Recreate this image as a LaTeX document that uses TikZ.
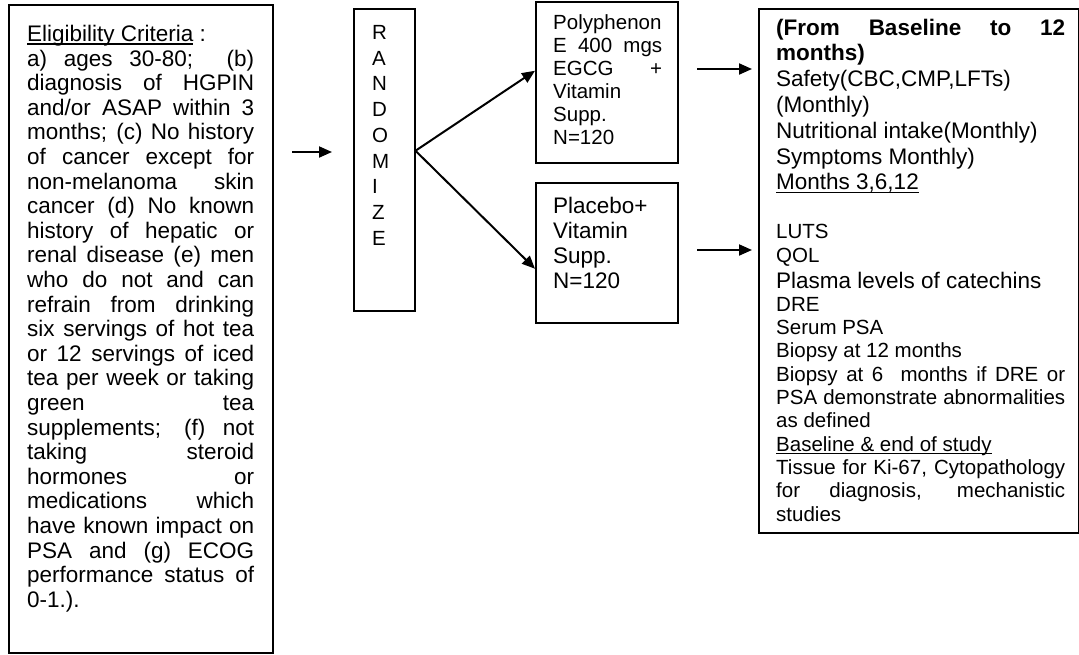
\documentclass[tikz,border=0pt]{standalone}
\usepackage{fontspec}
\setmainfont{Liberation Sans}
\usetikzlibrary{arrows.meta}

\setlength{\parindent}{0pt}
\hyphenpenalty=10000
\exhyphenpenalty=10000
\tolerance=10000
\hbadness=10000
\newcommand{\bigtxt}{\fontsize{22.5}{25.8}\selectfont}
\newcommand{\smalltxt}{\fontsize{20.5}{23.3}\selectfont}
% underline just below the baseline
\newcommand{\undl}[1]{\leavevmode\setbox0\hbox{#1}\rlap{\rule[-3pt]{\wd0}{1.3pt}}\box0\relax}

\begin{document}
\begin{tikzpicture}[
		x=1pt,y=-1pt,
		box/.style={
			draw,line width=1.5pt,anchor=north west,inner sep=0pt,
		},
		txt/.style={
			anchor=north west,inner sep=0pt,align=justify,
		},
		arr/.style={
			line width=2pt,-{Triangle[length=13pt,width=11pt]},
		},
	]

	\useasboundingbox (0,0) rectangle (1079,654);

	% eligibility box on the left
	\node[box,minimum width=264pt,minimum height=648pt] (crit) at (8,4) {};
	\node[txt,text width=227pt,font=\fontsize{22.5}{24.6}\selectfont] (crittxt) at (27,25) {%
		\undl{Eligibility Criteria} :\par
		a) ages 30-80;\ \ (b)\linebreak diagnosis of HGPIN\linebreak
		and/or ASAP within 3\linebreak months; (c) No history\linebreak
		of cancer except for\linebreak non-melanoma skin\linebreak
		cancer (d) No known\linebreak history of hepatic or\linebreak
		renal disease (e) men\linebreak who do not and can\linebreak
		refrain from drinking\linebreak six servings of hot tea\linebreak
		or 12 servings of iced\linebreak tea per week or taking\linebreak
		green tea\linebreak supplements; (f) not\linebreak
		taking steroid\linebreak hormones or\linebreak
		medications which\linebreak have known impact on\linebreak
		PSA and (g) ECOG\linebreak performance status of\linebreak
		0-1.).\par};

	% randomize column, one letter per line
	\node[box,minimum width=61pt,minimum height=302pt] (rand) at (353,8) {};
	\foreach \c [count=\i] in {R,A,N,D,O,M,I,Z,E}
	\node[anchor=base west,inner sep=0pt,font=\fontsize{20.5}{24}\selectfont]
		(rand-\i) at (372,39.5+25.7*\i-25.7) {\c};

	% the two arms
	\node[box,minimum width=142pt,minimum height=161pt] (poly) at (535,1) {};
	\node[txt,text width=109pt,font=\fontsize{20.5}{23}\selectfont] (polytxt) at (553,14.5) {%
		Polyphenon\linebreak E 400 mgs\linebreak EGCG +\linebreak
		Vitamin\linebreak Supp.\linebreak N=120\par};

	\node[box,minimum width=142pt,minimum height=140pt] (plac) at (535,182) {};
	\node[txt,text width=109pt,font=\fontsize{22.5}{25}\selectfont] (plactxt) at (553,197) {%
		Placebo+\\Vitamin\\Supp.\\N=120\par};

	% outcome measures
	\node[box,minimum width=320pt,minimum height=524pt] (outc) at (758,8) {};
	\node[txt,text width=289pt,font=\bigtxt] (outctxt) at (776,18.5) {%
		{\bfseries (From Baseline to 12\linebreak months)\par}
		Safety(CBC,CMP,LFTs)\\
		(Monthly)\\
		Nutritional intake(Monthly)\\
		Symptoms Monthly)\\
		\undl{Months 3,6,12}\par
		\mbox{}\par
		{\smalltxt LUTS\\QOL\par}
		Plasma levels of catechins\par
		{\smalltxt DRE\\Serum PSA\\Biopsy at 12 months\par
		Biopsy at 6\ \ months if DRE or\linebreak
		PSA demonstrate abnormalities\linebreak as defined\par
		\undl{Baseline \& end of study}\par
		Tissue for Ki-67, Cytopathology\linebreak
		for diagnosis, mechanistic\linebreak studies\par}};

	% arrows
	\coordinate (in1) at (292,152);
	\draw[arr,shorten >=21pt] (in1) -- (in1 -| rand.west);

	\coordinate (split) at ([yshift=9pt]rand.east);
	\draw[arr] (split) -- ([yshift=11.5pt]poly.west);
	\draw[arr] (split) -- ([yshift=-16pt]plac.west);

	\coordinate (o1) at (697,69);
	\coordinate (o2) at (697,250);
	\draw[arr,shorten >=6pt] (o1) -- (o1 -| outc.west);
	\draw[arr,shorten >=6pt] (o2) -- (o2 -| outc.west);

\end{tikzpicture}
\end{document}
